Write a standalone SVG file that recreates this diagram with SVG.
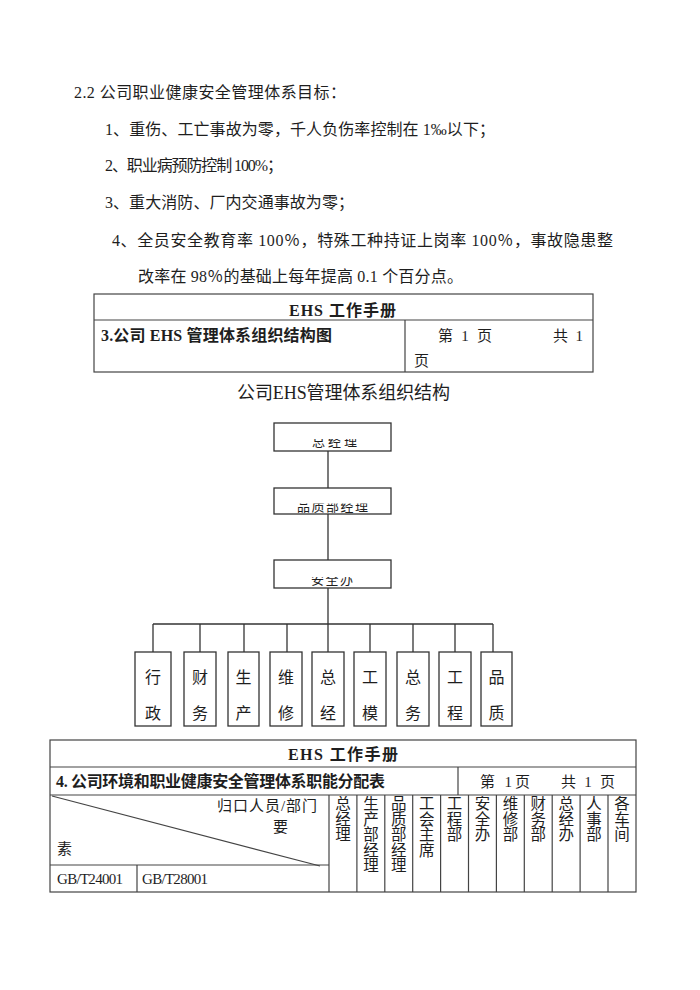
<svg xmlns="http://www.w3.org/2000/svg" width="700" height="990" viewBox="0 0 700 990">
<style>
text{font-family:'Liberation Serif','Noto Sans CJK SC',serif;fill:#1e1e1e}
.p{font-size:16px}
.h{font-size:16px;font-weight:bold}
.t{font-size:15px}
.lab{font-size:13px}
.bx{fill:#fff;stroke:#333;stroke-width:1.3}
.ln{fill:none;stroke:#333;stroke-width:1.3}
.tb{fill:none;stroke:#444;stroke-width:1.2}
.v{font-size:15.5px;text-anchor:middle}
</style>
<defs>
<clipPath id="c1"><rect x="276" y="439" width="113" height="11"/></clipPath>
<clipPath id="c2"><rect x="276" y="503.5" width="113" height="10"/></clipPath>
<clipPath id="c3"><rect x="276" y="577" width="113" height="10"/></clipPath>
<clipPath id="cv"><rect x="329" y="796" width="307" height="96"/></clipPath>
</defs>
<rect width="700" height="990" fill="#fff"/>

<g id="goals">
<text class="p" x="74" y="98" textLength="272" lengthAdjust="spacing">2.2 公司职业健康安全管理体系目标：</text>
<text class="p" x="105" y="135" textLength="390" lengthAdjust="spacing">1、重伤、工亡事故为零，千人负伤率控制在 1‰以下；</text>
<text class="p" x="105" y="171" textLength="178" lengthAdjust="spacing">2、职业病预防控制 100%；</text>
<text class="p" x="105" y="208" textLength="249" lengthAdjust="spacing">3、重大消防、厂内交通事故为零；</text>
<text class="p" x="112" y="246" textLength="501" lengthAdjust="spacing">4、全员安全教育率 100％，特殊工种持证上岗率 100％，事故隐患整</text>
<text class="p" x="138" y="282" textLength="325" lengthAdjust="spacing">改率在 98％的基础上每年提高 0.1 个百分点。</text>
</g>

<g id="table3">
<rect class="tb" x="94" y="294" width="499" height="78"/>
<line class="tb" x1="94" y1="320" x2="593" y2="320"/>
<line class="tb" x1="405" y1="320" x2="405" y2="372"/>
<text class="h" x="342.5" y="316" text-anchor="middle" textLength="107" lengthAdjust="spacing">EHS 工作手册</text>
<text class="h" x="101" y="341" textLength="231" lengthAdjust="spacing">3.公司 EHS 管理体系组织结构图</text>
<text class="t" x="438" y="341" textLength="54" lengthAdjust="spacing">第 1 页</text>
<text class="t" x="553" y="341" textLength="30" lengthAdjust="spacing">共 1</text>
<text class="t" x="414" y="366">页</text>
</g>

<g id="chart-title">
<text x="343.5" y="399" font-size="18" text-anchor="middle" textLength="213" lengthAdjust="spacing">公司EHS管理体系组织结构</text>
</g>

<g id="connectors">
<line class="ln" x1="328" y1="451" x2="328" y2="488"/>
<line class="ln" x1="328" y1="514" x2="328" y2="560"/>
<line class="ln" x1="328" y1="588" x2="328" y2="652"/>
<line class="ln" x1="153" y1="624" x2="493" y2="624"/>
<line class="ln" x1="153" y1="624" x2="153" y2="652"/>
<line class="ln" x1="200" y1="624" x2="200" y2="652"/>
<line class="ln" x1="244" y1="624" x2="244" y2="652"/>
<line class="ln" x1="287" y1="624" x2="287" y2="652"/>
<line class="ln" x1="370" y1="624" x2="370" y2="652"/>
<line class="ln" x1="413" y1="624" x2="413" y2="652"/>
<line class="ln" x1="455" y1="624" x2="455" y2="652"/>
<line class="ln" x1="493" y1="624" x2="493" y2="652"/>
</g>

<g id="n-gm">
<rect class="bx" x="274" y="423" width="117" height="28"/>
<text class="lab" x="334.5" y="446" text-anchor="middle" textLength="45" lengthAdjust="spacing" clip-path="url(#c1)">总经理</text>
</g>
<g id="n-qm">
<rect class="bx" x="274" y="488" width="117" height="26"/>
<text class="lab" x="332.5" y="511" text-anchor="middle" textLength="71" lengthAdjust="spacing" clip-path="url(#c2)">品质部经理</text>
</g>
<g id="n-safety">
<rect class="bx" x="274" y="560" width="117" height="28"/>
<text class="lab" x="332" y="584" text-anchor="middle" textLength="42" lengthAdjust="spacing" clip-path="url(#c3)">安全办</text>
</g>

<g id="n-admin"><rect class="bx" x="135" y="652" width="36" height="74"/><text class="p" x="153" y="683" text-anchor="middle">行</text><text class="p" x="153" y="719" text-anchor="middle">政</text></g>
<g id="n-finance"><rect class="bx" x="184" y="652" width="32" height="74"/><text class="p" x="200" y="683" text-anchor="middle">财</text><text class="p" x="200" y="719" text-anchor="middle">务</text></g>
<g id="n-production"><rect class="bx" x="228" y="652" width="31" height="74"/><text class="p" x="243.5" y="683" text-anchor="middle">生</text><text class="p" x="243.5" y="719" text-anchor="middle">产</text></g>
<g id="n-maint"><rect class="bx" x="270" y="652" width="32" height="74"/><text class="p" x="286" y="683" text-anchor="middle">维</text><text class="p" x="286" y="719" text-anchor="middle">修</text></g>
<g id="n-gmo"><rect class="bx" x="312" y="652" width="32" height="74"/><text class="p" x="328" y="683" text-anchor="middle">总</text><text class="p" x="328" y="719" text-anchor="middle">经</text></g>
<g id="n-mold"><rect class="bx" x="354" y="652" width="32" height="74"/><text class="p" x="370" y="683" text-anchor="middle">工</text><text class="p" x="370" y="719" text-anchor="middle">模</text></g>
<g id="n-general"><rect class="bx" x="397" y="652" width="32" height="74"/><text class="p" x="413" y="683" text-anchor="middle">总</text><text class="p" x="413" y="719" text-anchor="middle">务</text></g>
<g id="n-eng"><rect class="bx" x="439" y="652" width="32" height="74"/><text class="p" x="455" y="683" text-anchor="middle">工</text><text class="p" x="455" y="719" text-anchor="middle">程</text></g>
<g id="n-quality"><rect class="bx" x="481" y="652" width="31" height="74"/><text class="p" x="496.5" y="683" text-anchor="middle">品</text><text class="p" x="496.5" y="719" text-anchor="middle">质</text></g>

<g id="table4">
<rect class="tb" x="50" y="740" width="586" height="152"/>
<line class="tb" x1="50" y1="767" x2="636" y2="767"/>
<line class="tb" x1="50" y1="795" x2="636" y2="795"/>
<line class="tb" x1="458" y1="767" x2="458" y2="795"/>
<line class="tb" x1="50" y1="865" x2="329" y2="865"/>
<line class="tb" x1="137" y1="865" x2="137" y2="892"/>
<line class="tb" x1="52" y1="796" x2="320" y2="866"/>
<line class="tb" x1="329" y1="795" x2="329" y2="892"/>
<line class="tb" x1="356.9" y1="795" x2="356.9" y2="892"/>
<line class="tb" x1="384.8" y1="795" x2="384.8" y2="892"/>
<line class="tb" x1="412.7" y1="795" x2="412.7" y2="892"/>
<line class="tb" x1="440.6" y1="795" x2="440.6" y2="892"/>
<line class="tb" x1="468.5" y1="795" x2="468.5" y2="892"/>
<line class="tb" x1="496.4" y1="795" x2="496.4" y2="892"/>
<line class="tb" x1="524.3" y1="795" x2="524.3" y2="892"/>
<line class="tb" x1="552.2" y1="795" x2="552.2" y2="892"/>
<line class="tb" x1="580.1" y1="795" x2="580.1" y2="892"/>
<line class="tb" x1="608" y1="795" x2="608" y2="892"/>
<text class="h" x="343" y="760" text-anchor="middle" textLength="110" lengthAdjust="spacing">EHS 工作手册</text>
<text class="h" x="56" y="787" font-size="15" textLength="329" lengthAdjust="spacing">4. 公司环境和职业健康安全管理体系职能分配表</text>
<text class="t" x="480" y="787" textLength="50" lengthAdjust="spacing">第 1页</text>
<text class="t" x="561" y="787" textLength="54" lengthAdjust="spacing">共 1 页</text>
<text class="t" x="217" y="811" textLength="100" lengthAdjust="spacing">归口人员/部门</text>
<text class="t" x="273" y="832">要</text>
<text class="t" x="57" y="854">素</text>
<text class="t" x="57" y="884" font-size="14" textLength="66" lengthAdjust="spacing">GB/T24001</text>
<text class="t" x="142" y="884" font-size="14" textLength="66" lengthAdjust="spacing">GB/T28001</text>
<g clip-path="url(#cv)">
<text class="v"><tspan x="343" y="809">总</tspan><tspan x="343" y="824.5">经</tspan><tspan x="343" y="840">理</tspan></text>
<text class="v"><tspan x="370.9" y="809">生</tspan><tspan x="370.9" y="824.5">产</tspan><tspan x="370.9" y="840">部</tspan><tspan x="370.9" y="855.5">经</tspan><tspan x="370.9" y="871">理</tspan></text>
<text class="v"><tspan x="398.8" y="809">品</tspan><tspan x="398.8" y="824.5">质</tspan><tspan x="398.8" y="840">部</tspan><tspan x="398.8" y="855.5">经</tspan><tspan x="398.8" y="871">理</tspan></text>
<text class="v"><tspan x="426.7" y="809">工</tspan><tspan x="426.7" y="824.5">会</tspan><tspan x="426.7" y="840">主</tspan><tspan x="426.7" y="855.5">席</tspan></text>
<text class="v"><tspan x="454.6" y="809">工</tspan><tspan x="454.6" y="824.5">程</tspan><tspan x="454.6" y="840">部</tspan></text>
<text class="v"><tspan x="482.5" y="809">安</tspan><tspan x="482.5" y="824.5">全</tspan><tspan x="482.5" y="840">办</tspan></text>
<text class="v"><tspan x="510.4" y="809">维</tspan><tspan x="510.4" y="824.5">修</tspan><tspan x="510.4" y="840">部</tspan></text>
<text class="v"><tspan x="538.3" y="809">财</tspan><tspan x="538.3" y="824.5">务</tspan><tspan x="538.3" y="840">部</tspan></text>
<text class="v"><tspan x="566.2" y="809">总</tspan><tspan x="566.2" y="824.5">经</tspan><tspan x="566.2" y="840">办</tspan></text>
<text class="v"><tspan x="594.1" y="809">人</tspan><tspan x="594.1" y="824.5">事</tspan><tspan x="594.1" y="840">部</tspan></text>
<text class="v"><tspan x="622" y="809">各</tspan><tspan x="622" y="824.5">车</tspan><tspan x="622" y="840">间</tspan></text>
</g>
</g>
</svg>
